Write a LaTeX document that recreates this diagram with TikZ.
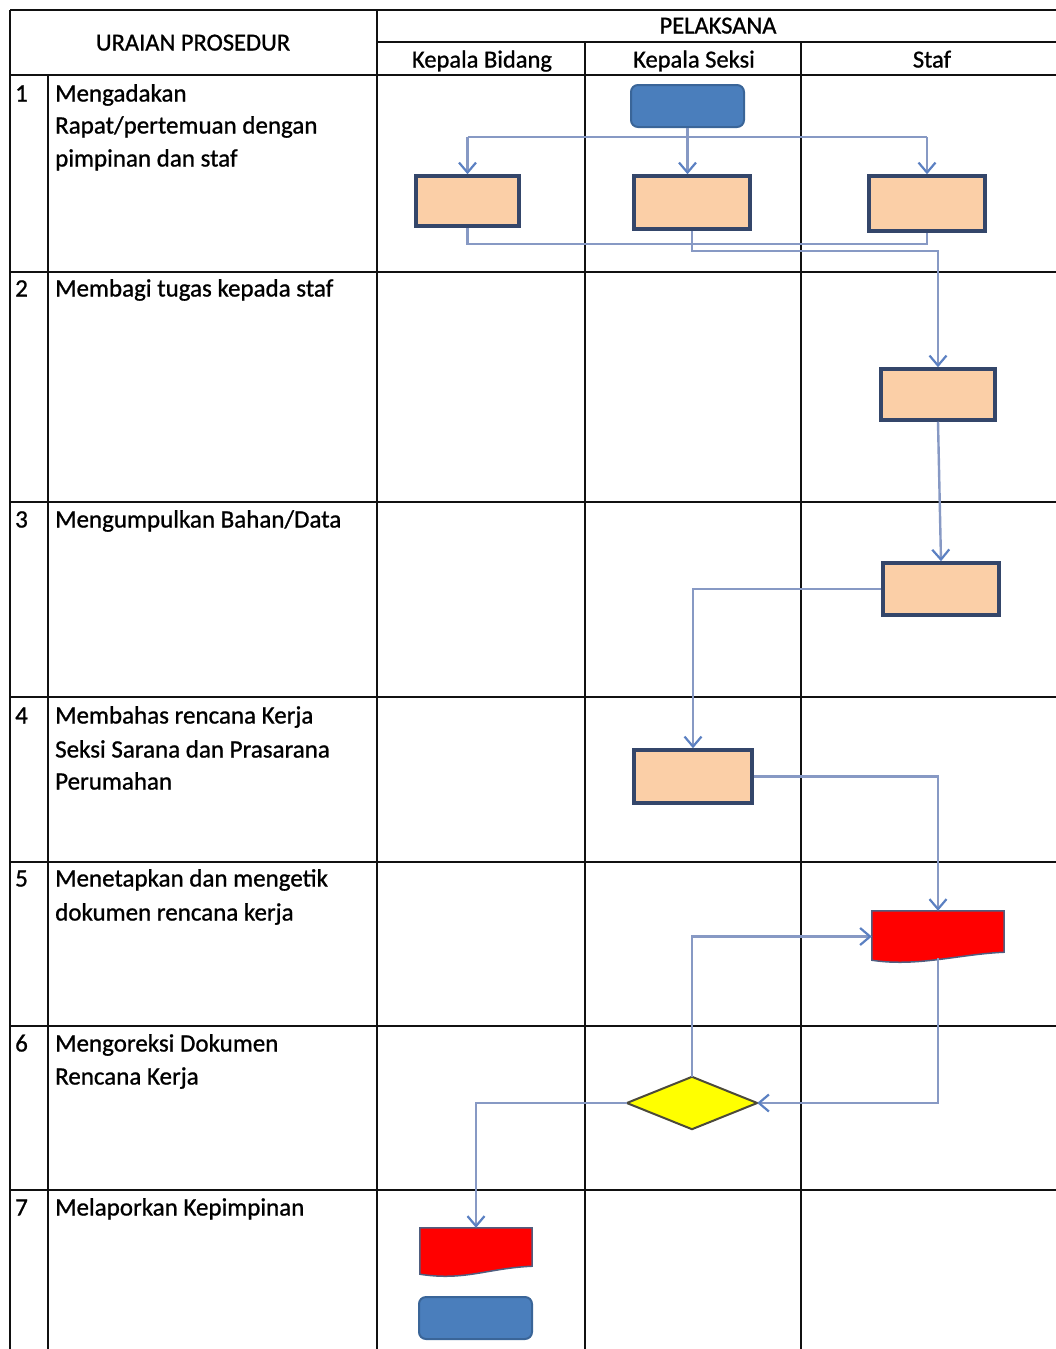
\documentclass[tikz,border=0pt]{standalone}
\usepackage{fontspec}
\setmainfont{Carlito}[FakeBold=0.9]
\usetikzlibrary{arrows.meta,calc}
\definecolor{gridline}{HTML}{111111}
\definecolor{peach}{HTML}{FBCFA7}
\definecolor{peachedge}{HTML}{34466A}
\definecolor{termfill}{HTML}{4A7EBC}
\definecolor{termedge}{HTML}{3A6598}
\definecolor{flow}{HTML}{8799C4}
\definecolor{flowtip}{HTML}{5B80C2}
\definecolor{docred}{HTML}{FF0000}
\definecolor{docedge}{HTML}{4F5E80}
\definecolor{decision}{HTML}{FFFF00}
\definecolor{decisionedge}{HTML}{4C4A3A}

\begin{document}
\begin{tikzpicture}[x=1pt,y=-1pt,
  grid/.style={draw=gridline,line width=2pt},
  txt/.style={anchor=west,inner sep=0pt,text height=17pt,text depth=6pt,
    font=\fontsize{25}{30}\selectfont,text=black},
  head/.style={inner sep=0pt,text height=17pt,text depth=6pt,
    font=\fontsize{24.5}{30}\selectfont,text=black},
  process/.style={draw=peachedge,fill=peach,line width=3.5pt,inner sep=0pt},
  terminal/.style={draw=termedge,fill=termfill,line width=2pt,rounded corners=7pt,
    inner sep=0pt,minimum width=113pt,minimum height=42pt},
  placeholder/.style={draw=none,inner sep=0pt},
  docshape/.style={fill=docred,draw=docedge,line width=1.5pt},
  decshape/.style={fill=decision,draw=decisionedge,line width=2pt,line join=miter},
  flowline/.style={draw=flow,line width=2.4pt},
  flowarrow/.style={flowline,-{Straight Barb[length=10pt,width=17pt,line width=2.2pt,color=flowtip]}}
]
\useasboundingbox (0,0) rectangle (1056,1349);

% ---- table grid ----
\draw[grid,line width=2.5pt] (10,10) -- (1056,10);
\draw[grid] (377,42) -- (1056,42);
\foreach \yy in {75,272,502,697,862,1026,1190}
  \draw[grid] (10,\yy) -- (1056,\yy);
\draw[grid] (10,10) -- (10,1349);
\draw[grid] (48,75) -- (48,1349);
\draw[grid] (377,10) -- (377,1349);
\draw[grid] (585,42) -- (585,1349);
\draw[grid] (801,42) -- (801,1349);

% ---- headers ----
\node[head] (hUraian) at (193,45) {URAIAN PROSEDUR};
\node[head] (hPelaksana) at (718,28) {PELAKSANA};
\node[head] (hKabid) at (482,62) {Kepala Bidang};
\node[head] (hKasi) at (694,62) {Kepala Seksi};
\node[head] (hStaf) at (932,62) {Staf};

% ---- procedure column ----
\node[txt] (n1) at (15,96) {1};
\node[txt] (t1a) at (55,96) {Mengadakan};
\node[txt] (t1b) at (55,128) {Rapat/pertemuan dengan};
\node[txt] (t1c) at (55,161) {pimpinan dan staf};
\node[txt] (n2) at (15,291) {2};
\node[txt] (t2a) at (55,291) {Membagi tugas kepada staf};
\node[txt] (n3) at (15,522) {3};
\node[txt] (t3a) at (55,522) {Mengumpulkan Bahan/Data};
\node[txt] (n4) at (15,718) {4};
\node[txt] (t4a) at (55,718) {Membahas rencana Kerja};
\node[txt] (t4b) at (55,752) {Seksi Sarana dan Prasarana};
\node[txt] (t4c) at (55,784) {Perumahan};
\node[txt] (n5) at (15,881) {5};
\node[txt] (t5a) at (55,881) {Menetapkan dan mengetik};
\node[txt] (t5b) at (55,915) {dokumen rencana kerja};
\node[txt] (n6) at (15,1046) {6};
\node[txt] (t6a) at (55,1046) {Mengoreksi Dokumen};
\node[txt] (t6b) at (55,1079) {Rencana Kerja};
\node[txt] (n7) at (15,1210) {7};
\node[txt] (t7a) at (55,1210) {Melaporkan Kepimpinan};

% ---- flow shapes ----
\node[terminal] (start) at (687.5,106) {};
\node[process,minimum width=103pt,minimum height=50pt] (pA) at (467.5,201) {};
\node[process,minimum width=116pt,minimum height=53pt] (pB) at (692,202.5) {};
\node[process,minimum width=116pt,minimum height=55pt] (pC) at (927,203.5) {};
\node[process,minimum width=114pt,minimum height=51pt] (pD) at (938,394.5) {};
\node[process,minimum width=116pt,minimum height=52pt] (pE) at (941,589) {};
\node[process,minimum width=118pt,minimum height=53pt] (pF) at (693,776.5) {};
\node[placeholder,minimum width=132pt,minimum height=51pt] (docG) at (938,936.5) {};
\node[placeholder,minimum width=130pt,minimum height=52pt] (dec) at (692,1103) {};
\node[placeholder,minimum width=112pt,minimum height=48pt] (docI) at (476,1252) {};
\node[terminal] (finish) at (475.5,1318) {};

% document symbols with a wavy lower edge
\foreach \d in {docG,docI}
  \path[docshape] (\d.north west) -- (\d.north east)
    -- ($(\d.south east)+(0,-10)$)
    .. controls ($(\d.south east)+(-45,-8)$) and ($(\d.south west)+(45,5)$)
    .. ($(\d.south west)+(0,-2)$) -- cycle;

% decision diamond
\path[decshape] (dec.north) -- (dec.east) -- (dec.south) -- (dec.west) -- cycle;

% ---- connectors ----
\coordinate (busL) at (467.5,137);
\coordinate (busR) at (927,137);
\draw[flowline] (busL) -- (busR);
\draw[flowarrow] (start.south) -- (start.south |- pB.north);
\draw[flowarrow] (busL) -- (pA.north);
\draw[flowarrow] (busR) -- (pC.north);
\draw[flowline] (pA.south) -- ++(0,16) -| (pC.south);
\coordinate (toStaf) at (938,251);
\draw[flowarrow] (pB.south) |- (toStaf) -- (pD.north);
\draw[flowarrow] (pD.south) -- (pE.north);
\draw[flowarrow] (pE.west) -| (pF.north);
\draw[flowarrow] (pF.east) -| (docG.north);
\draw[flowarrow] ($(docG.south)+(0,-4)$) |- (dec.east);
\draw[flowarrow] (dec.north) |- (docG.west);
\draw[flowarrow] (dec.west) -| (docI.north);

\end{tikzpicture}
\end{document}
